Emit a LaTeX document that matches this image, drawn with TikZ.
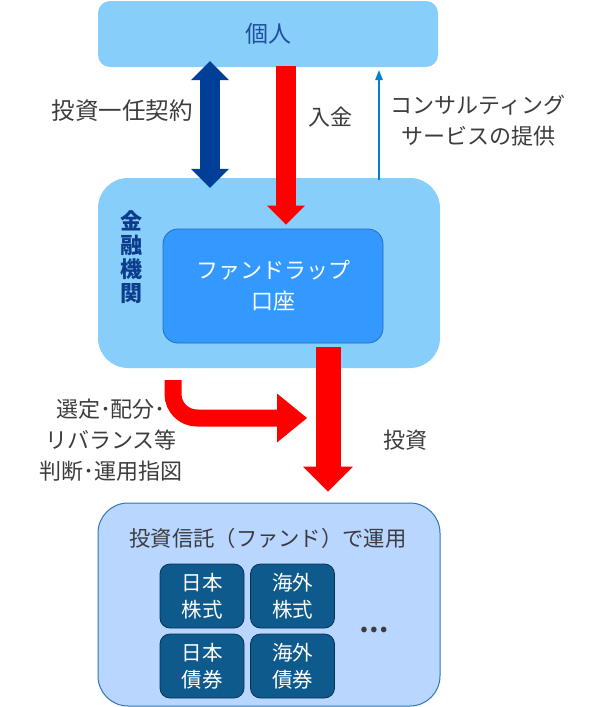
\documentclass[tikz,border=0pt]{standalone}
\usepackage{fontspec}
\setmainfont{Noto Sans CJK JP}
\usepackage{tikz}
\usetikzlibrary{arrows.meta,positioning,calc}

\definecolor{skyfill}{RGB}{135,206,250}
\definecolor{wrapfill}{RGB}{51,153,255}
\definecolor{wrapline}{RGB}{30,110,200}
\definecolor{fundfill}{RGB}{184,214,255}
\definecolor{fundline}{RGB}{46,117,182}
\definecolor{assetfill}{RGB}{14,90,140}
\definecolor{assetline}{RGB}{10,50,80}
\definecolor{navyarrow}{RGB}{0,63,152}
\definecolor{consultblue}{RGB}{0,128,208}
\definecolor{textgray}{RGB}{60,60,60}
\definecolor{persontext}{RGB}{31,78,154}
\definecolor{fintext}{RGB}{12,60,140}

\tikzset{
  panel/.style={rectangle, fill=skyfill, draw=none},
  txt/.style={text=textgray, font=\fontsize{22}{31}\selectfont, align=center, inner sep=0pt},
  asset/.style={rectangle, rounded corners=10pt, fill=assetfill, draw=assetline, line width=0.8pt,
    minimum width=84pt, minimum height=64pt, text=white, align=center,
    font=\fontsize{20.5}{27}\selectfont},
  fatarrow/.style={draw=red, line width=#1},
}

\begin{document}
\begin{tikzpicture}[x=1pt, y=-1pt]
    \useasboundingbox (0,0) rectangle (590,707);

    % Boxes
    \node[panel, rounded corners=12pt, minimum width=340pt, minimum height=66pt,
      text=persontext, font=\fontsize{23}{26}\selectfont] (person) at (268,34) {個人};
    \node[panel, rounded corners=30pt, minimum width=342pt, minimum height=190pt] (fin) at (269,273) {};
    \node[rectangle, rounded corners=15pt, fill=wrapfill, draw=wrapline, line width=0.8pt,
      minimum width=220pt, minimum height=114pt, text=white, align=center,
      font=\fontsize{22}{31}\selectfont] (wrap) at (273,286) {ファンドラップ\\口座};
    \node[text=fintext, font=\bfseries\fontsize{22}{24}\selectfont, align=center, inner sep=0pt]
      (finlabel) at (131,257) {金\\融\\機\\関};
    \node[rectangle, rounded corners=30pt, fill=fundfill, draw=fundline, line width=1pt,
      minimum width=342pt, minimum height=203pt] (fund) at (269,604.5) {};
    \node[txt, font=\fontsize{21.3}{31}\selectfont] (fundlabel) at (268,538) {投資信託（ファンド）で運用};

    % Assets
    \node[asset] (jpstock) at (202,596) {日本\\株式};
    \node[asset] (fostock) at (292.5,596) {海外\\株式};
    \node[asset] (jpbond) at (202,666) {日本\\債券};
    \node[asset] (fobond) at (292.5,666) {海外\\債券};
    \node[text=textgray, font=\bfseries\fontsize{26}{26}\selectfont, inner sep=0pt] (more) at (374,630) {…};

    % Contract (both ways)
    \draw[navyarrow, line width=20pt,
      {Triangle[width=38pt,length=19pt,line width=0pt]}-{Triangle[width=38pt,length=19pt,line width=0pt]}]
      ($(person.south)+(-58,-6)$) -- ($(fin.north)+(-59,10)$);
    \node[txt, font=\fontsize{23.5}{31}\selectfont] (contract) at (122,111) {投資一任契約};

    % Deposit
    \draw[fatarrow=20pt, -{Triangle[width=38pt,length=19pt,line width=0pt]}]
      ($(person.south)+(18,-1)$) -- ($(wrap.north)+(13,-4)$);
    \node[txt] (deposit) at (330,117) {入金};

    % Consulting
    \draw[consultblue, line width=2.2pt, -{Triangle[width=8pt,length=10pt,line width=0pt]}]
      ($(fin.north)+(110,2)$) -- ($(person.south)+(111,3)$);
    \node[txt] (consult) at (478,121) {コンサルティング\\サービスの提供};

    % Investment
    \draw[fatarrow=25pt, -{Triangle[width=50pt,length=25pt,line width=0pt]}]
      ($(wrap.south)+(55,4)$) -- ($(fund.north)+(59,-11)$);
    \node[txt] (invest) at (405,440) {投資};

    % Instruction (bent)
    \coordinate (bendend) at (307,418);
    \draw[fatarrow=17pt, rounded corners=24pt, -{Triangle[width=49pt,length=30pt,line width=0pt]}]
      ($(fin.south)+(-96,12)$) |- (bendend);
    \node[txt] (instruct) at (111,440) {選定･配分･\\リバランス等\\判断･運用指図};
\end{tikzpicture}
\end{document}
